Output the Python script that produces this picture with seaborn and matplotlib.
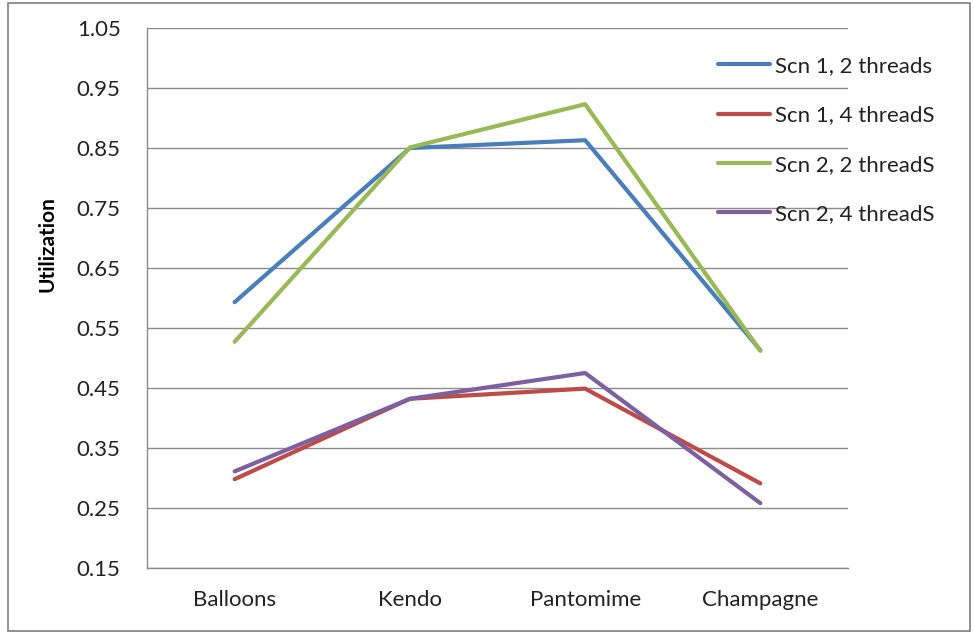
import seaborn as sns
import pandas as pd
import matplotlib.pyplot as plt
from matplotlib.patches import Rectangle

# data
videos = ["Balloons", "Kendo", "Pantomime", "Champagne"]
series = ["Scn 1, 2 threads", "Scn 1, 4 threadS", "Scn 2, 2 threadS", "Scn 2, 4 threadS"]
scn1_2t = [0.593, 0.850, 0.863, 0.513]
scn1_4t = [0.298, 0.432, 0.449, 0.291]
scn2_2t = [0.527, 0.851, 0.923, 0.512]
scn2_4t = [0.311, 0.432, 0.475, 0.258]
yticks = [0.15, 0.25, 0.35, 0.45, 0.55, 0.65, 0.75, 0.85, 0.95, 1.05]

colors = ["#4A7EBB", "#BE4B48", "#98B954", "#7D60A0"]

rows = []
for name, vals in zip(series, [scn1_2t, scn1_4t, scn2_2t, scn2_4t]):
    for i, v in enumerate(vals):
        rows.append({"video": i, "series": name, "util": v})
df = pd.DataFrame(rows)

sns.set_style("white")
plt.rcParams['font.family'] = ['Lato', 'DejaVu Sans']

fig = plt.figure(figsize=(9.74, 6.38), dpi=100)
ax = fig.add_axes([147/974, 1 - 568/638, (848 - 147)/974, (568 - 28)/638])

sns.lineplot(
    data=df, x="video", y="util", hue="series",
    hue_order=series, palette=colors, linewidth=3,
    ax=ax, legend=True
)
for line in ax.get_lines():
    line.set_solid_capstyle("round")
    line.set_solid_joinstyle("round")

grid_c = "#8C8C8C"
txt_c = "#222222"
ax.set_xlim(-0.5, 3.5)
ax.set_ylim(0.15, 1.05)
ax.set_yticks(yticks)
ax.set_yticklabels([f"{t:.2f}" for t in yticks])
ax.yaxis.grid(True, color=grid_c, linewidth=1)
ax.set_axisbelow(True)

# category labels centered, tick marks on band boundaries
ax.set_xticks(range(len(videos)))
ax.set_xticklabels(videos)
ax.set_xticks([-0.5, 0.5, 1.5, 2.5, 3.5], minor=True)
ax.tick_params(axis="x", which="major", length=0, pad=16, labelsize=16, colors=txt_c)
ax.tick_params(axis="x", which="minor", length=6, color=grid_c, width=1, direction="out")
ax.tick_params(axis="y", length=6, color=grid_c, width=1, direction="out",
               labelsize=16, pad=13, labelcolor=txt_c)

for s in ["top", "right"]:
    ax.spines[s].set_visible(False)
for s in ["left", "bottom"]:
    ax.spines[s].set_color(grid_c)
    ax.spines[s].set_linewidth(1)

ax.set_xlabel("")
ax.set_ylabel("Utilization", fontsize=15, fontweight="bold", color="black")
ax.yaxis.set_label_coords(-0.127, 0.60)

leg = ax.legend(
    loc="upper left", bbox_to_anchor=(718/974, 1 - 56/638), bbox_transform=fig.transFigure,
    frameon=False, fontsize=16, handlelength=2.35, handletextpad=0.2,
    labelspacing=1.32, borderpad=0, borderaxespad=0
)
for line in leg.get_lines():
    line.set_linewidth(3)
for t in leg.get_texts():
    t.set_color(txt_c)

# outer chart border
fig.patches.append(Rectangle((8/974, 1 - 631/638), 962/974, 628/638,
                             transform=fig.transFigure, fill=False,
                             edgecolor="#7F7F7F", linewidth=1.2))

fig.savefig("out.png", dpi=100)
